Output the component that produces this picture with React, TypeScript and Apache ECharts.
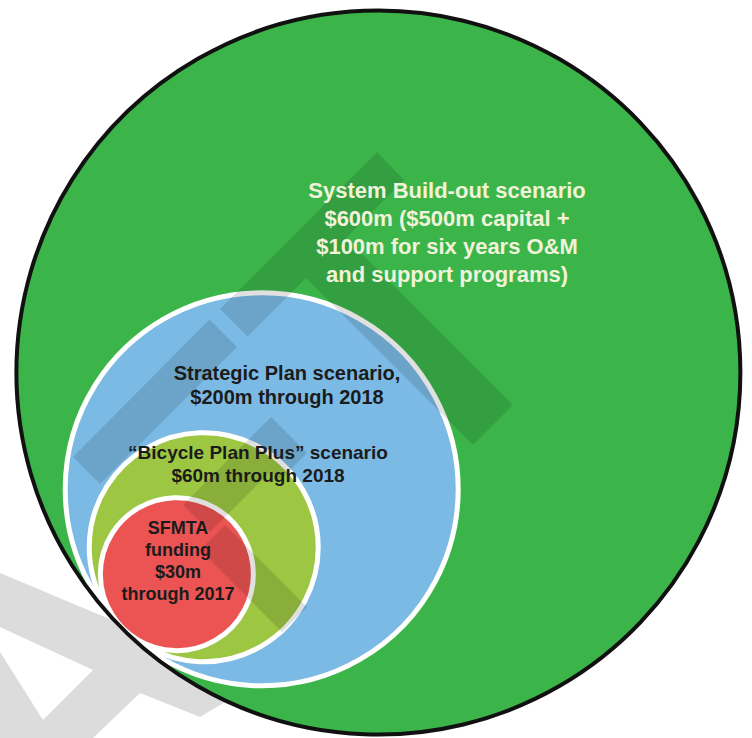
import { useEffect, useRef } from "react";
import * as echarts from "echarts";

// ---- data ----
const scenarioNames = ["System Build-out", "Strategic Plan", "Bicycle Plan Plus", "SFMTA funding"];
const amountsMillions = [600, 200, 60, 30];
// bubble radius of each scenario, in chart units (the drawing is not exactly area-proportional)
const bubbleRadius = [364, 199, 117, 79];

const labelLines: string[][] = [
  ["System Build-out scenario", "$600m ($500m capital +", "$100m for six years O&M", "and support programs)"],
  ["Strategic Plan scenario,", "$200m through 2018"],
  ["\u201CBicycle Plan Plus\u201D scenario", "$60m through 2018"],
  ["SFMTA", "funding", "$30m", "through 2017"],
];

// ---- styles / layout ----
const fillColors = ["#3bb54a", "#7bbae4", "#9dc643", "#ec5454"];
const textColors = ["#f1f2da", "#1b1b1b", "#1b1b1b", "#1b1b1b"];
const fontSizes = [22, 20, 19, 18];
const lineHeights = [28, 24, 23, 22];
const labelCenters = [
  [447, 232],
  [287, 385],
  [258, 464],
  [178, 561],
];
const TANGENT = [121, 630]; // common tangent point of all bubbles (chart units)
const FONT = '"Liberation Sans", Arial, sans-serif';

const wmDark = "rgba(0,0,0,0.12)";
const watermarkDark: number[][][] = [
  [[220, 309], [377, 152], [404, 180], [346, 238], [513, 405], [473, 445], [306, 278], [247.5, 336.5]],
  [[73, 457], [209.5, 319.5], [237, 347], [100, 484]],
  [[271, 417], [307, 453], [280, 480], [271, 471], [210, 532], [183, 505]],
  [[225, 525], [307, 607], [282, 632], [200, 550]],
];

export default function App() {
  const ref = useRef<HTMLDivElement>(null);

  useEffect(() => {
    if (!ref.current) return;
    const chart = echarts.init(ref.current, undefined, { renderer: "svg" });

    const bubbleData = amountsMillions.map((v, i) => ({
      name: scenarioNames[i],
      value: [v, bubbleRadius[i]],
    }));

    const c45 = Math.SQRT1_2;

    const graphic: any[] = [
      // light grey watermark outside the big circle
      {
        type: "polygon",
        z: 1,
        shape: { points: [[0, 573], [250, 678], [225, 702], [200, 717], [140, 693], [93, 738], [0, 738]] },
        style: { fill: "#dcdcdc" },
      },
      {
        type: "polygon",
        z: 1,
        shape: { points: [[0, 627], [93, 670], [43, 720], [0, 652]] },
        style: { fill: "#ffffff" },
      },
      ...watermarkDark.map((pts) => ({
        type: "polygon",
        z: 10,
        silent: true,
        shape: { points: pts },
        style: { fill: wmDark },
      })),
      ...labelLines.map((lines, i) => ({
        type: "text",
        z: 20,
        x: labelCenters[i][0],
        y: labelCenters[i][1],
        style: {
          text: lines.join("\n"),
          fill: textColors[i],
          font: `bold ${fontSizes[i]}px ${FONT}`,
          align: "center",
          verticalAlign: "middle",
          lineHeight: lineHeights[i],
        },
      })),
    ];

    chart.setOption({
      animation: false,
      backgroundColor: "#ffffff",
      grid: { left: 0, right: 0, top: 0, bottom: 0 },
      xAxis: { type: "value", min: 0, max: 752, show: false },
      yAxis: { type: "value", min: 0, max: 738, inverse: true, show: false },
      graphic,
      series: [
        {
          type: "custom",
          coordinateSystem: "cartesian2d",
          z: 2,
          silent: true,
          data: bubbleData,
          renderItem: (params: any, api: any) => {
            const i = params.dataIndex;
            const r = api.value(1);
            const center = api.coord([TANGENT[0] + r * c45, TANGENT[1] - r * c45]);
            const rp = api.size([r, r])[0];
            const outer = i === 0;
            return {
              type: "circle",
              shape: { cx: center[0], cy: center[1], r: outer ? rp - 2 : rp - 2.5 },
              style: {
                fill: fillColors[i],
                stroke: outer ? null : "#ffffff",
                lineWidth: outer ? 0 : 5,
              },
            };
          },
        },
        {
          type: "custom",
          coordinateSystem: "cartesian2d",
          z: 3,
          silent: true,
          data: [bubbleData[0]],
          renderItem: (_params: any, api: any) => {
            const r = api.value(1);
            const center = api.coord([TANGENT[0] + r * c45, TANGENT[1] - r * c45]);
            const rp = api.size([r, r])[0];
            return {
              type: "circle",
              shape: { cx: center[0], cy: center[1], r: rp - 2 },
              style: { fill: "none", stroke: "#111111", lineWidth: 4 },
            };
          },
        },
      ],
    });

    return () => chart.dispose();
  }, []);

  return (
    <div
      ref={ref}
      style={{ position: "absolute", left: 0, top: 0, width: 752, height: 738 }}
    />
  );
}
